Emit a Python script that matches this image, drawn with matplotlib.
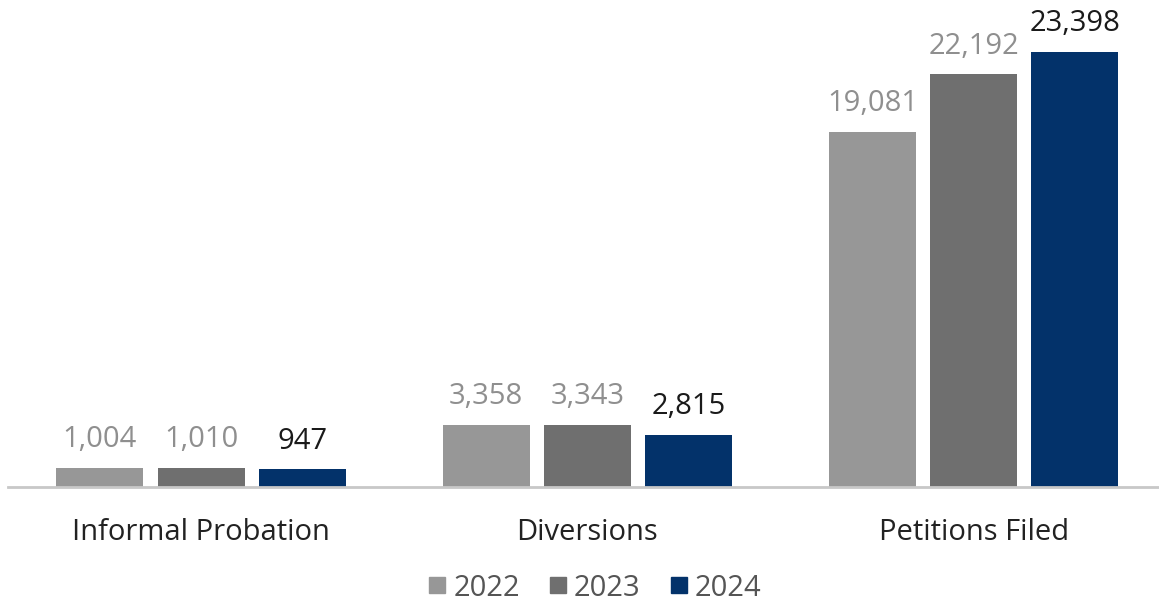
import numpy as np
import matplotlib
matplotlib.use("Agg")
import matplotlib.pyplot as plt
from matplotlib.lines import Line2D

plt.rcParams['font.family'] = ['Open Sans', 'DejaVu Sans']

# Case counts by category and year
categories = ["Informal Probation", "Diversions", "Petitions Filed"]
years = ["2022", "2023", "2024"]
counts_2022 = [1004, 3358, 19081]
counts_2023 = [1010, 3343, 22192]
counts_2024 = [947, 2815, 23398]

bar_colors = ["#979797", "#6f6f6f", "#03326a"]
label_colors = ["#8f8f8f", "#8f8f8f", "#1a1a1a"]

fig = plt.figure(figsize=(11.59, 6.05), dpi=100)
ax = fig.add_axes([8 / 1159, 1 - 487 / 605, 1 - 8 / 1159, 487 / 605])

x = np.arange(len(categories))
width = 0.225
step = 0.262
series = [counts_2022, counts_2023, counts_2024]

for i, vals in enumerate(series):
    pos = x + (i - 1) * step
    bars = ax.bar(pos, vals, width, color=bar_colors[i], label=years[i], zorder=2)
    for b, v in zip(bars, vals):
        ax.annotate(f"{v:,}", (b.get_x() + b.get_width() / 2, v),
                    xytext=(0, 10), textcoords="offset points",
                    ha="center", va="bottom", fontsize=21,
                    color=label_colors[i])

ax.set_xlim(-0.5, 2.48)
ax.set_ylim(0, 26200)
ax.set_yticks([])
ax.set_xticks(x)
ax.set_xticklabels(categories, fontsize=21, color="#222222")
ax.tick_params(axis="x", length=0, pad=22)
for s in ["top", "right", "left"]:
    ax.spines[s].set_visible(False)
ax.spines["bottom"].set_color("#c8c8c8")
ax.spines["bottom"].set_linewidth(2)
ax.spines["bottom"].set_zorder(3)

handles = [Line2D([], [], marker="s", linestyle="none", markersize=12,
                  color=c) for c in bar_colors]
fig.legend(handles, years, loc="center", bbox_to_anchor=(592 / 1159, 1 - 588 / 605),
           ncol=3, frameon=False, fontsize=21, handletextpad=0.05,
           handlelength=1.0, columnspacing=0.8, labelcolor="#555555")

fig.savefig("out.png", dpi=100)
